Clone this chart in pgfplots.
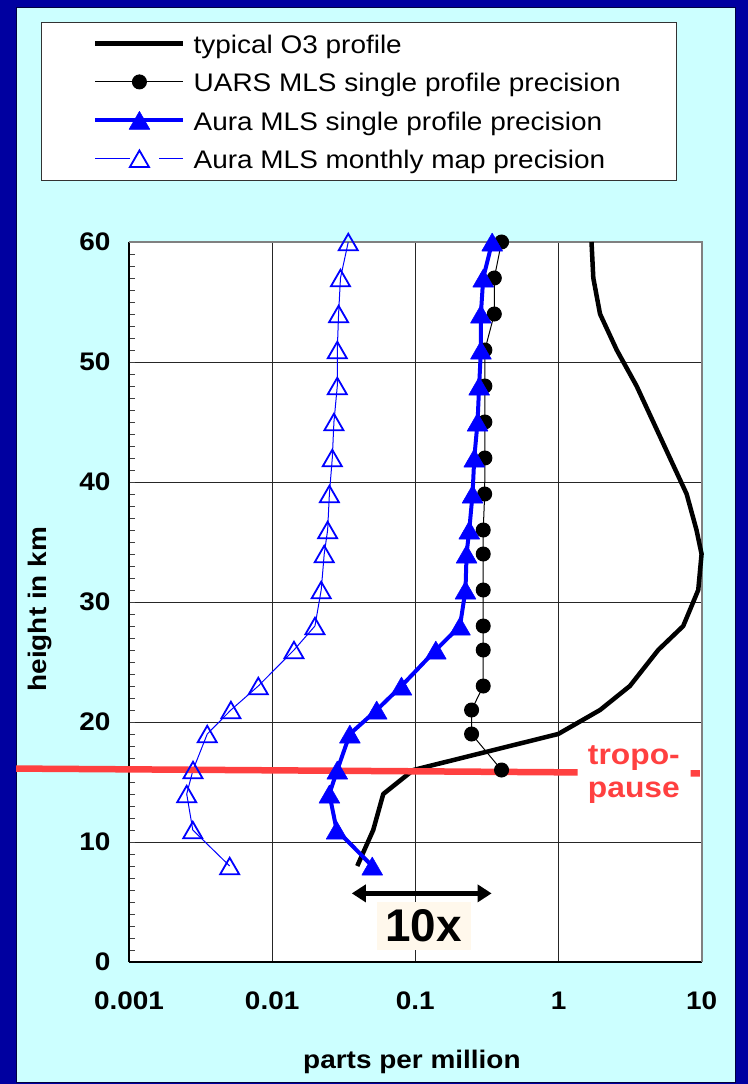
\documentclass[border=0pt]{standalone}
\usepackage{fontspec}
\setmainfont{Liberation Sans}[FakeStretch=1.1]
\newfontfamily\plainfont{Liberation Sans}
\usepackage{pgfplots}
\pgfplotsset{compat=1.18}
\usetikzlibrary{arrows.meta}
\definecolor{navy}{RGB}{0,0,160}
\definecolor{bgcyan}{RGB}{204,255,255}
\definecolor{pblue}{RGB}{0,0,255}
\definecolor{tred}{RGB}{255,64,64}
\definecolor{cream}{RGB}{255,248,236}
\definecolor{edgegray}{RGB}{128,128,128}
\pgfplotsset{
  legline/.code={\pgfplotsset{legend image code/.code={\draw[##1] (0bp,0bp) -- (88bp,0bp);}}},
  legmark/.code={\pgfplotsset{legend image code/.code={\draw[mark repeat=2,mark phase=2,##1] plot coordinates {(0bp,0bp) (44bp,0bp) (88bp,0bp)};}}},
  leggap/.code={\pgfplotsset{legend image code/.code={\draw[##1, mark=none] (0bp,0bp) -- (35bp,0bp); \draw[##1, mark=none] (64bp,0bp) -- (88bp,0bp); \draw[##1] plot coordinates {(44bp,0bp)};}}},
}

\begin{document}
\begin{tikzpicture}
\path[use as bounding box, fill=navy] (0,0) rectangle (748bp,-1084bp);
\fill[bgcyan, draw=black!60!navy, line width=1bp] (16.5bp,-7bp) rectangle (735bp,-1082bp);
\draw[fill=white, draw=black!80, line width=1bp] (41.5bp,-22bp) rectangle (676.5bp,-180bp);
\begin{axis}[
  at={(129bp,-962bp)}, anchor=south west,
  scale only axis, width=572.7bp, height=720bp,
  xmode=log, xmin=0.001, xmax=10, ymin=0, ymax=60,
  axis x line*=bottom, axis y line*=left,
  axis line style={black, line width=1.8bp},
  axis background/.style={fill=white},
  xtick={0.001,0.01,0.1,1,10}, xticklabels={0.001,0.01,0.1,1,10},
  ytick={0,10,20,30,40,50,60}, yticklabels={0,10,20,30,40,50,60},
  minor ytick={1,...,59},
  xminorticks=false,
  tick align=inside,
  major tick length=0pt,
  minor tick length=6bp,
  minor tick style={black!75, line width=1bp},
  grid=major, major grid style={black!85, line width=0.9bp},
  ticklabel style={font=\fontsize{25.5}{30}\selectfont\bfseries},
  xticklabel style={yshift=-26bp},
  yticklabel style={xshift=-15bp},
  clip=false,
  legend cell align=left,
  legend style={draw=none, fill=none, at={(axis description cs:-0.06286,1.2954)}, anchor=north west,
    inner xsep=0pt, inner ysep=0pt, row sep=10.4bp, column sep=8bp,
    font=\fontsize{25.5}{30}\selectfont,
    nodes={inner sep=0pt, text height=24bp, text depth=4bp}},
]
\draw[edgegray, line width=1.8bp] (axis description cs:0,1) -- (axis description cs:1,1) -- (axis description cs:1,0);

\addplot[black, line width=4.5bp, line join=round, legline]
  coordinates {(0.0393,8) (0.0508,11) (0.0597,14) (0.0967,16) (0.995,19) (1.95,21) (3.15,23) (4.97,26) (7.43,28) (9.46,31) (9.98,34) (9.2,36) (7.85,39) (6.0,42) (4.59,45) (3.51,48) (2.55,51) (1.95,54) (1.75,57) (1.70,60)};
\addlegendentry{typical O3 profile}

\addplot[black, line width=1bp, mark=*, mark size=7bp, legmark]
  coordinates {(0.40,16) (0.247,19) (0.247,21) (0.298,23) (0.298,26) (0.298,28) (0.298,31) (0.298,34) (0.298,36) (0.305,39) (0.306,42) (0.306,45) (0.306,48) (0.306,51) (0.356,54) (0.356,57) (0.40,60)};
\addlegendentry{UARS MLS single profile precision}

\addplot[pblue, line width=4bp, line join=round, mark=triangle*, mark size=12bp, mark options={line width=0.5bp, yshift=-3bp}, legmark]
  coordinates {(0.050,8) (0.0282,11) (0.0251,14) (0.0285,16) (0.0349,19) (0.0537,21) (0.080,23) (0.139,26) (0.205,28) (0.224,31) (0.228,34) (0.238,36) (0.251,39) (0.258,42) (0.272,45) (0.279,48) (0.287,51) (0.287,54) (0.298,57) (0.344,60)};
\addlegendentry{Aura MLS single profile precision}

\addplot[pblue, line width=1bp, mark=triangle, mark size=11bp, mark options={line width=1.8bp, yshift=-2.75bp}, leggap]
  coordinates {(0.00505,8) (0.00279,11) (0.00253,14) (0.0028,16) (0.00352,19) (0.00515,21) (0.0080,23) (0.0142,26) (0.0199,28) (0.022,31) (0.0231,34) (0.0244,36) (0.0251,39) (0.0263,42) (0.027,45) (0.0285,48) (0.0285,51) (0.0291,54) (0.030,57) (0.034,60)};
\addlegendentry{Aura MLS monthly map precision}

% tropopause
\addplot[tred, line width=6.5bp, forget plot] coordinates {(1.63e-4,16.12) (1.36,15.80)};
\addplot[tred, line width=6.5bp, forget plot] coordinates {(8.36,15.73) (9.71,15.72)};
\node[tred, anchor=base, font=\fontsize{29}{34}\selectfont\bfseries] at (axis cs:3.36,16.42) {tropo-};
\node[tred, anchor=base, font=\fontsize{29}{34}\selectfont\bfseries] at (axis cs:3.36,13.67) {pause};

% 10x annotation
\draw[black, line width=4.5bp, {Triangle[length=14bp,width=17bp]}-{Triangle[length=14bp,width=17bp]}] (axis cs:0.0360,5.72) -- (axis cs:0.341,5.72);
\node[fill=cream, draw=none, text=black, minimum width=94bp, minimum height=48bp, inner sep=0pt, font=\fontsize{46}{50}\plainfont\bfseries] at (axis cs:0.1143,3.0) {10x};

% axis labels
\node[rotate=90, font=\fontsize{25.5}{30}\selectfont\bfseries] at (axis description cs:-0.1554,0.490) {height in km};
\node[anchor=base, font=\fontsize{25.5}{30}\selectfont\bfseries] at (axis description cs:0.494,-0.1472) {parts per million};
\end{axis}
\end{tikzpicture}
\end{document}
